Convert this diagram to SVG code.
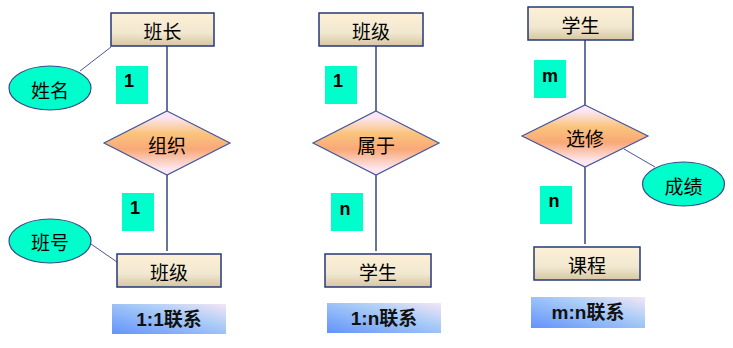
<svg xmlns="http://www.w3.org/2000/svg" width="733" height="348" viewBox="0 0 733 348">
<defs>
<linearGradient id="ent" x1="0" y1="0" x2="0" y2="1">
<stop offset="0" stop-color="#fdf0d6"/>
<stop offset="0.6" stop-color="#f1e8d0"/>
<stop offset="1" stop-color="#d6c6a2"/>
</linearGradient>
<linearGradient id="rel" x1="0" y1="0" x2="0" y2="1">
<stop offset="0.1" stop-color="#fbe6f2"/>
<stop offset="0.35" stop-color="#fac47c"/>
<stop offset="0.6" stop-color="#f9a878"/>
<stop offset="0.9" stop-color="#fde6ee"/>
</linearGradient>
<linearGradient id="lab" x1="0" y1="1" x2="1" y2="0">
<stop offset="0" stop-color="#6293fc"/>
<stop offset="0.6" stop-color="#a9cbf6"/>
<stop offset="1" stop-color="#f4e6f6"/>
</linearGradient>
<style>
.ent{fill:url(#ent);stroke:#26397a;stroke-width:1.5}
.rel{fill:url(#rel);stroke:#46569a;stroke-width:1.2}
.att{fill:#00fdcc;stroke:#3a4a8a;stroke-width:1.2}
.card{fill:#00fdcc}
.lab{fill:url(#lab)}
.ln{stroke:#26397a;stroke-width:1.4;fill:none}
.al{stroke:#46569a;stroke-width:1;fill:none}
.t{font-family:"Noto Sans CJK SC","Liberation Sans",sans-serif;font-size:19px;fill:#000;text-anchor:middle;dominant-baseline:central}
.tn{font-family:"Liberation Sans",Arial,sans-serif;font-weight:bold;font-size:18px;fill:#000;text-anchor:middle;dominant-baseline:central}
.tl{font-family:"Liberation Sans","Noto Sans CJK SC",sans-serif;font-weight:bold;font-size:19px;fill:#111;text-anchor:middle;dominant-baseline:central}
</style>
</defs>
<g id="connectors">
<line class="ln" x1="167" y1="46" x2="167" y2="111"/>
<line class="ln" x1="167" y1="175" x2="167" y2="251"/>
<line class="al" x1="80" y1="71" x2="111" y2="47"/>
<line class="al" x1="91" y1="244" x2="117" y2="262"/>
<line class="ln" x1="376" y1="46" x2="376" y2="111"/>
<line class="ln" x1="376" y1="175" x2="376" y2="251"/>
<line class="ln" x1="585" y1="40" x2="585" y2="105"/>
<line class="ln" x1="585" y1="167" x2="585" y2="244"/>
<line class="al" x1="624" y1="149" x2="655" y2="167"/>
</g>
<g id="banzhang"><rect class="ent" x="111" y="13" width="103" height="33"/><text class="t" x="162.5" y="30">班长</text></g>
<g id="xingming"><ellipse class="att" cx="50" cy="88" rx="41" ry="22"/><text class="t" x="50" y="89">姓名</text></g>
<g id="zuzhi"><polygon class="rel" points="167,111 230,143 167,175 104,143"/><text class="t" x="167" y="144">组织</text></g>
<g id="card1a"><rect class="card" x="116" y="66" width="32" height="38"/><text class="tn" x="129" y="81">1</text></g>
<g id="card1b"><rect class="card" x="122" y="193" width="32" height="38"/><text class="tn" x="135" y="208">1</text></g>
<g id="banhao"><ellipse class="att" cx="50" cy="241" rx="41" ry="22"/><text class="t" x="50" y="241">班号</text></g>
<g id="banji1"><rect class="ent" x="117" y="254" width="104" height="33"/><text class="t" x="169" y="271">班级</text></g>
<g id="label11"><rect class="lab" x="112" y="304" width="114" height="30"/><text class="tl" x="169" y="319">1:1联系</text></g>

<g id="banji2"><rect class="ent" x="319" y="13" width="104" height="33"/><text class="t" x="371" y="30">班级</text></g>
<g id="shuyu"><polygon class="rel" points="376,111 439,143 376,175 313,143"/><text class="t" x="376" y="144">属于</text></g>
<g id="card2a"><rect class="card" x="325" y="66" width="32" height="38"/><text class="tn" x="338" y="81">1</text></g>
<g id="card2b"><rect class="card" x="331" y="193" width="32" height="38"/><text class="tn" x="345" y="209">n</text></g>
<g id="xuesheng2"><rect class="ent" x="325" y="254" width="106" height="33"/><text class="t" x="378" y="271">学生</text></g>
<g id="label1n"><rect class="lab" x="327" y="303" width="114" height="30"/><text class="tl" x="384" y="318">1:n联系</text></g>

<g id="xuesheng3"><rect class="ent" x="528" y="7" width="105" height="33"/><text class="t" x="580.5" y="24">学生</text></g>
<g id="xuanxiu"><polygon class="rel" points="585,105 648,136 585,167 522,136"/><text class="t" x="585" y="137">选修</text></g>
<g id="card3a"><rect class="card" x="534" y="60" width="32" height="38"/><text class="tn" x="550" y="76">m</text></g>
<g id="card3b"><rect class="card" x="540" y="186" width="32" height="38"/><text class="tn" x="554" y="201">n</text></g>
<g id="chengji"><ellipse class="att" cx="683.5" cy="184" rx="41" ry="22"/><text class="t" x="683.5" y="185">成绩</text></g>
<g id="kecheng"><rect class="ent" x="534" y="247" width="106" height="33"/><text class="t" x="587" y="264">课程</text></g>
<g id="labelmn"><rect class="lab" x="531" y="297" width="114" height="31"/><text class="tl" x="588" y="312">m:n联系</text></g>
</svg>
